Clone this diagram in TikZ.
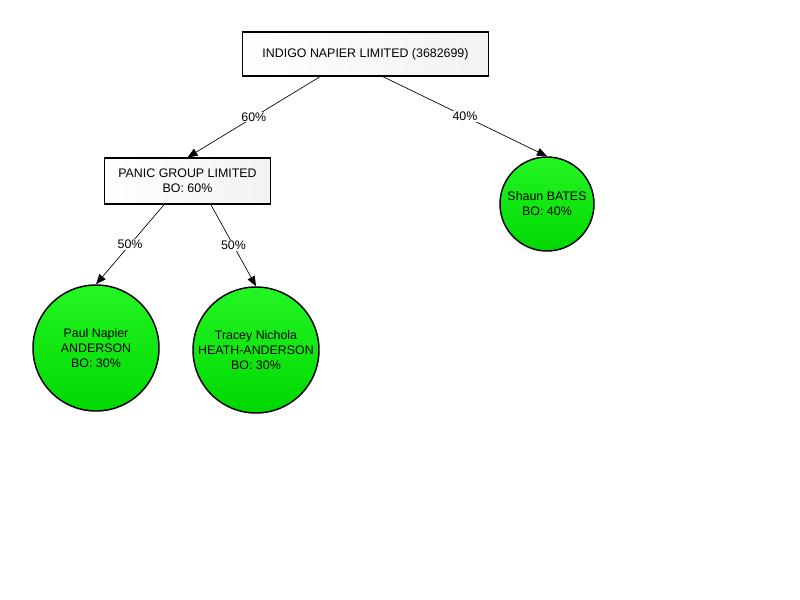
\documentclass[tikz,border=0pt]{standalone}
\usepackage{fontspec}
\setmainfont{Liberation Sans}
\usetikzlibrary{arrows.meta}
\definecolor{boxleft}{RGB}{255,255,255}
\definecolor{boxright}{RGB}{242,242,242}
\definecolor{bolight}{RGB}{36,246,36}
\definecolor{bodark}{RGB}{0,216,0}
\tikzset{
  company/.style={draw=black, line width=0.9pt, left color=boxleft, right color=boxright, align=center, inner sep=0.75pt},
  owner/.style={circle, draw=black, line width=1.1pt, top color=bolight, bottom color=bodark, align=center, inner sep=0.75pt},
  share/.style={-{Triangle[length=7.5pt,width=6pt]}, line width=0.5pt},
  pct/.style={fill=white, inner sep=0.75pt}
}
\begin{document}
\begin{tikzpicture}[x=0.75pt,y=0.75pt,yscale=-1,xscale=1,font=\fontsize{9.3}{11.25}\selectfont]
\useasboundingbox (0,0) rectangle (800,600);

%Shape: Rectangle [id:top company]
\node [company, minimum width=185pt, minimum height=33pt] (indigo) at (365.5,54) {INDIGO NAPIER LIMITED (3682699)};
%Shape: Rectangle [id:sub company]
\node [company, minimum width=124pt, minimum height=34.5pt] (panic) at (187.5,181) {PANIC GROUP LIMITED\\BO: 60\%};

%Shape: Circle [id:owners]
\node [owner, minimum size=70.5pt] (bates) at (547,204) {Shaun BATES\\BO: 40\%};
\node [owner, minimum size=94.5pt] (paul) at (96,348) {Paul Napier\\ANDERSON\\BO: 30\%};
\node [owner, minimum size=94.5pt] (tracey) at (256,350) {Tracey Nichola\\HEATH-ANDERSON\\BO: 30\%};

%Straight Lines [id:holdings]
\draw [share] ([xshift=-34pt]indigo.south) -- (panic.north) node [pct, midway] {60\%};
\draw [share] ([xshift=13pt]indigo.south) -- (bates.north) node [pct, midway] {40\%};
\draw [share] ([xshift=-17.5pt]panic.south) -- (paul.north) node [pct, midway] {50\%};
\draw [share] ([xshift=17.5pt]panic.south) -- (tracey.north) node [pct, midway] {50\%};

\end{tikzpicture}
\end{document}
